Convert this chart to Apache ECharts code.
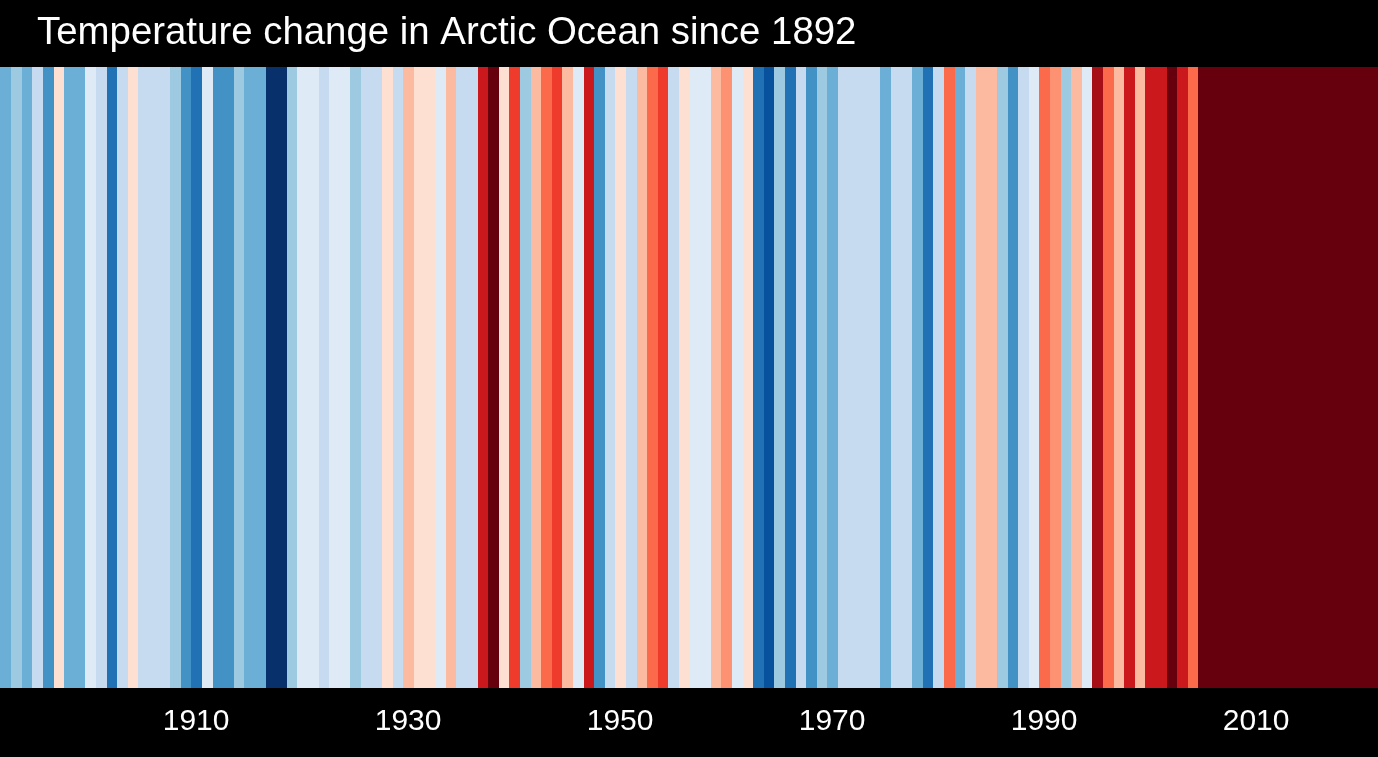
<!DOCTYPE html>
<html>
<head>
<meta charset="utf-8">
<style>html,body{margin:0;padding:0;background:#000;width:100%;height:100%;overflow:hidden}#chart{width:1378px;height:757px}</style>
<script src="https://cdn.jsdelivr.net/npm/echarts@6/dist/echarts.min.js"></script>
</head>
<body>
<div id="chart"></div>
<script>
const titleText = 'Temperature change in Arctic Ocean since 1892';
const firstYear = 1892;
// Colour class of each year (0 = coldest, 15 = warmest), read from the stripes
const stripeLevels = [
  4,5,4,6,3,8,4,4,                // 1892-1899
  7,6,2,6,8,6,6,6,5,3,            // 1900-1909
  2,7,3,3,5,4,4,0,0,5,            // 1910-1919
  7,7,6,7,7,5,6,6,8,6,            // 1920-1929
  9,8,8,7,9,6,6,13,15,8,          // 1930-1939
  12,5,9,11,12,9,7,13,3,6,        // 1940-1949
  8,6,9,11,12,6,8,7,7,9,          // 1950-1959
  10,7,8,2,1,5,2,6,3,5,           // 1960-1969
  4,6,6,6,6,4,6,6,4,2,            // 1970-1979
  6,11,4,6,9,9,5,3,6,7,           // 1980-1989
  11,10,5,9,7,14,11,9,13,9,       // 1990-1999
  13,13,15,13,11,15,15,15,15,15,  // 2000-2009
  15,15,15,15,15,15,15,15,15,15,  // 2010-2019
  15,15                           // 2020-2021
];
const palette = ['#08306b','#08519c','#2171b5','#4292c6','#6baed6','#9ecae1','#c6dbef','#deebf7',
                 '#fee0d2','#fcbba1','#fc9272','#fb6a4a','#ef3b2c','#cb181d','#a50f15','#67000d'];
const labelledYears = [1910,1930,1950,1970,1990,2010];

const years = stripeLevels.map((_, i) => String(firstYear + i));
const cells = stripeLevels.map((lv, i) => [i, 0, lv]);

function drawStripe(params, api) {
  const cs = params.coordSys;
  const c = api.coord([api.value(0), 0]);
  const w = api.size([1, 0])[0];
  const snap = v => Math.max(cs.x, Math.min(cs.x + cs.width, Math.round(v + 0.6)));
  const x0 = params.dataIndex === 0 ? cs.x : snap(c[0] - w / 2);
  const x1 = params.dataIndex === stripeLevels.length - 1 ? cs.x + cs.width : snap(c[0] + w / 2);
  return {
    type:'rect',
    shape:{x:x0, y:cs.y, width:x1 - x0, height:cs.height},
    style:{fill:api.visual('color')}
  };
}

const chart = echarts.init(document.getElementById('chart'), null, {renderer:'canvas'});
chart.setOption({
  backgroundColor:'#000000',
  animation:false,
  title:{
    text:titleText, left:32, top:9,
    textStyle:{color:'#ffffff', fontFamily:'"Liberation Sans"', fontSize:38.4, fontWeight:'normal'}
  },
  grid:{left:0, right:0, top:67, bottom:69, containLabel:false},
  xAxis:{
    type:'category', data:years, boundaryGap:true,
    axisLine:{show:false}, axisTick:{show:false}, splitLine:{show:false},
    axisLabel:{
      color:'#ffffff', fontFamily:'"Liberation Sans"', fontSize:30, margin:19,
      interval:(idx, val) => labelledYears.includes(+val),
      hideOverlap:false
    }
  },
  yAxis:{type:'category', data:[''], show:false},
  visualMap:{
    type:'piecewise', show:false, dimension:2, seriesIndex:0,
    pieces:palette.map((c, i) => ({value:i, color:c}))
  },
  series:[{type:'custom', data:cells, renderItem:drawStripe, encode:{x:0, y:1}, silent:true}]
});
</script>
</body>
</html>
